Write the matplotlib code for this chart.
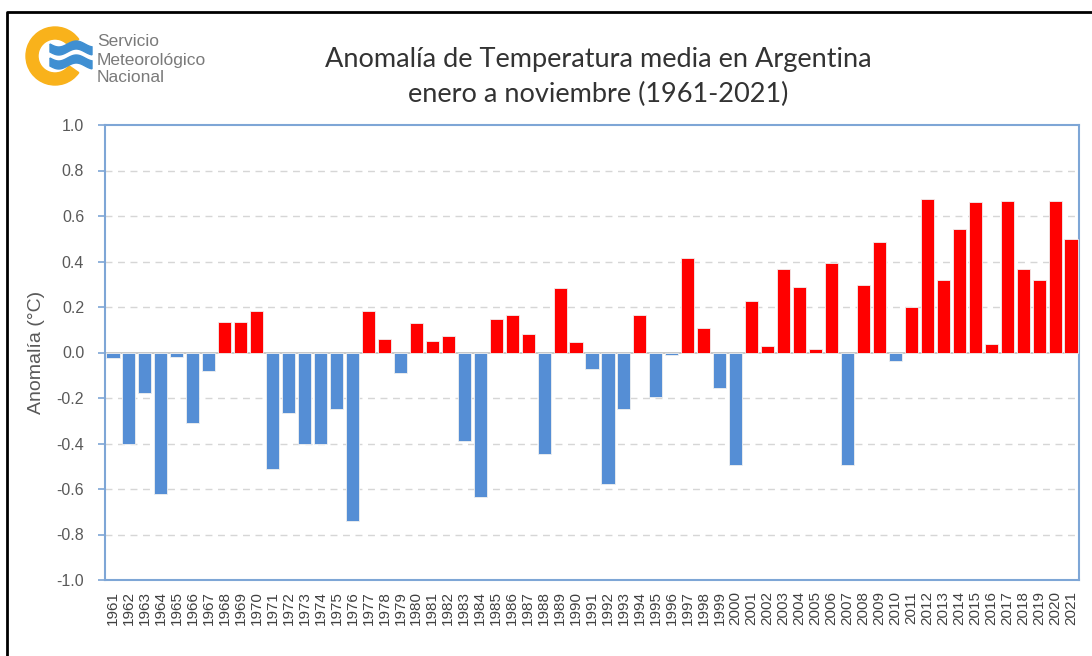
import numpy as np
import matplotlib
matplotlib.use('Agg')
import matplotlib.pyplot as plt
from matplotlib.patches import Wedge, Polygon

# datos
anios = list(range(1961, 2022))
anomalia = [-0.025, -0.40, -0.18, -0.62, -0.02, -0.31, -0.08, 0.136, 0.136, 0.184,
            -0.51, -0.264, -0.40, -0.40, -0.25, -0.74, 0.184, 0.06, -0.088, 0.13,
            0.052, 0.072, -0.39, -0.636, 0.149, 0.164, 0.08, -0.445, 0.282, 0.046,
            -0.074, -0.578, -0.25, 0.164, -0.195, -0.012, 0.416, 0.108, -0.158, -0.493,
            0.227, 0.03, 0.366, 0.289, 0.016, 0.395, -0.493, 0.296, 0.485, -0.038,
            0.198, 0.674, 0.317, 0.541, 0.661, 0.037, 0.668, 0.366, 0.317, 0.668,
            0.50]
yticks = [-1.0, -0.8, -0.6, -0.4, -0.2, 0.0, 0.2, 0.4, 0.6, 0.8, 1.0]

titulo = 'Anomalía de Temperatura media en Argentina\nenero a noviembre (1961-2021)'
ylabel = 'Anomalía (°C)'

azul = '#558ed5'
rojo = '#ff0000'
borde = '#7ea6d6'

fig = plt.figure(figsize=(10.92, 6.56), dpi=100)
ax = fig.add_axes([105/1092, 1-580/656, 974/1092, 455/656])

colores = [rojo if v > 0 else azul for v in anomalia]
x = np.arange(len(anios))
ax.bar(x, anomalia, width=0.82, color=colores, edgecolor='#f0f0f0', linewidth=0.6, zorder=3)

ax.set_xlim(-0.5, len(anios)-0.5)
ax.set_ylim(-1.0, 1.0)
ax.set_yticks(yticks)
ax.set_yticklabels(['%.1f' % v for v in yticks], family='Liberation Sans', fontsize=11.5, color='#595959')
ax.set_xticks(x)
ax.set_xticklabels([str(a) for a in anios], rotation=90, family='Liberation Sans', fontsize=11, color='#404040')
ax.tick_params(axis='x', length=0, pad=8)
ax.tick_params(axis='y', length=5, color=borde, width=1.2, pad=10)

# grilla punteada
for v in yticks[1:-1]:
    if v == 0:
        ax.axhline(0, color='#bfbfbf', lw=1.2, zorder=2)
    else:
        ax.axhline(v, color='#d6d6d6', lw=1.0, ls=(0, (5, 4)), zorder=1)

for s in ax.spines.values():
    s.set_color(borde)
    s.set_linewidth(1.5)

ax.set_ylabel(ylabel, family='Liberation Sans', fontsize=14, color='#595959', labelpad=8)

fig.text(598/1092, 1-77/656, titulo, ha='center', va='center', family='Lato',
         fontsize=19.5, color='#333333', linespacing=1.5)

# marco y logo
ov = fig.add_axes([0, 0, 1, 1], zorder=-1)
ov.set_xlim(0, 1092)
ov.set_ylim(656, 0)
ov.axis('off')
ov.plot([7, 7, 1092], [656, 12, 12], color='black', lw=2)

ov.add_patch(Wedge((55, 56), 29, 35, 325, width=12, color='#f9b21b'))
t = np.linspace(0, 1, 40)
for yc in [48, 62]:
    xs = 50 + 42*t
    yy = yc + 3*np.sin(2*np.pi*t*1.2)
    pts = np.concatenate([np.c_[xs, yy-4], np.c_[xs[::-1], yy[::-1]+4]])
    ov.add_patch(Polygon(pts, closed=True, color='#3f8fd2'))
ov.text(97, 42, 'Servicio', family='Liberation Sans', fontsize=12.5, color='#7a7a7a', va='center')
ov.text(97, 60, 'Meteorológico', family='Liberation Sans', fontsize=12.5, color='#7a7a7a', va='center')
ov.text(97, 78, 'Nacional', family='Liberation Sans', fontsize=12.5, color='#7a7a7a', va='center')

fig.savefig('out.png', dpi=100)
